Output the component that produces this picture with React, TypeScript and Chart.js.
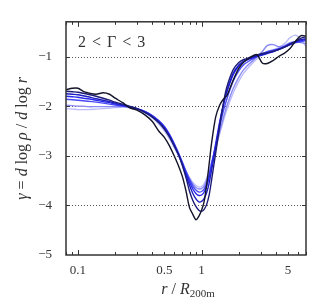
import React, { useEffect, useRef } from 'react';
import { Chart, registerables } from 'chart.js';

Chart.register(...registerables);

// radius r / R200m (shared sample grid)
const R = [0.08, 0.09, 0.1, 0.11, 0.12, 0.14, 0.16, 0.18, 0.2, 0.23, 0.26, 0.3, 0.35, 0.4, 0.45, 0.5, 0.55, 0.6, 0.65, 0.7, 0.75, 0.8, 0.85, 0.9, 0.95, 1.0, 1.05, 1.1, 1.15, 1.2, 1.3, 1.4, 1.5, 1.6, 1.8, 2.0, 2.2, 2.5, 2.8, 3.1, 3.4, 3.8, 4.2, 4.7, 5.2, 5.8, 6.4, 7.0];

// logarithmic slope gamma for each curve (dark -> light)
const G0 = [-1.67, -1.64, -1.64, -1.70, -1.73, -1.76, -1.73, -1.76, -1.84, -1.93, -2.03, -2.08, -2.18, -2.31, -2.50, -2.63, -2.80, -3.00, -3.20, -3.42, -3.72, -4.05, -4.18, -4.29, -4.22, -4.10, -3.92, -3.58, -3.18, -2.78, -2.22, -1.98, -1.86, -1.79, -1.48, -1.24, -1.11, -1.01, -0.96, -1.13, -1.14, -1.08, -1.00, -0.93, -0.84, -0.68, -0.58, -0.59];
const G1 = [-1.70, -1.71, -1.72, -1.74, -1.76, -1.80, -1.84, -1.88, -1.92, -1.96, -2.00, -2.05, -2.13, -2.22, -2.33, -2.46, -2.62, -2.80, -2.97, -3.20, -3.45, -3.72, -3.90, -4.02, -4.10, -4.12, -4.08, -3.98, -3.80, -3.52, -2.95, -2.42, -1.95, -1.62, -1.27, -1.12, -1.06, -1.01, -0.97, -0.94, -0.92, -0.89, -0.86, -0.81, -0.75, -0.69, -0.63, -0.60];
const G2 = [-1.75, -1.76, -1.77, -1.79, -1.81, -1.85, -1.88, -1.91, -1.94, -1.98, -2.01, -2.05, -2.12, -2.21, -2.32, -2.44, -2.60, -2.79, -2.98, -3.18, -3.40, -3.60, -3.76, -3.87, -3.93, -3.92, -3.86, -3.74, -3.56, -3.32, -2.84, -2.36, -1.98, -1.70, -1.34, -1.17, -1.09, -1.03, -0.99, -0.96, -0.93, -0.90, -0.86, -0.81, -0.76, -0.71, -0.66, -0.64];
const G3 = [-1.80, -1.81, -1.82, -1.84, -1.85, -1.88, -1.91, -1.93, -1.96, -1.99, -2.01, -2.05, -2.11, -2.20, -2.30, -2.42, -2.58, -2.77, -2.96, -3.16, -3.36, -3.53, -3.67, -3.76, -3.80, -3.79, -3.73, -3.61, -3.44, -3.22, -2.76, -2.32, -1.98, -1.72, -1.37, -1.19, -1.10, -1.04, -1.00, -0.97, -0.94, -0.90, -0.85, -0.80, -0.74, -0.70, -0.68, -0.66];
const G4 = [-1.86, -1.87, -1.88, -1.89, -1.90, -1.92, -1.94, -1.96, -1.98, -2.00, -2.02, -2.05, -2.11, -2.19, -2.29, -2.41, -2.57, -2.75, -2.94, -3.13, -3.32, -3.48, -3.61, -3.69, -3.73, -3.72, -3.67, -3.56, -3.40, -3.20, -2.80, -2.42, -2.10, -1.86, -1.50, -1.29, -1.16, -1.07, -1.00, -0.95, -0.90, -0.87, -0.84, -0.80, -0.76, -0.72, -0.70, -0.68];
const G5 = [-1.98, -1.99, -2.00, -2.00, -2.01, -2.01, -2.01, -2.01, -2.01, -2.01, -2.02, -2.06, -2.13, -2.22, -2.33, -2.46, -2.62, -2.80, -2.98, -3.15, -3.32, -3.46, -3.57, -3.64, -3.67, -3.66, -3.61, -3.50, -3.35, -3.17, -2.84, -2.52, -2.24, -2.00, -1.65, -1.42, -1.26, -1.12, -1.01, -0.90, -0.78, -0.76, -0.80, -0.78, -0.72, -0.70, -0.72, -0.74];
const G6 = [-2.05, -2.06, -2.07, -2.07, -2.07, -2.06, -2.05, -2.04, -2.03, -2.02, -2.03, -2.07, -2.14, -2.24, -2.36, -2.50, -2.66, -2.83, -3.00, -3.16, -3.31, -3.44, -3.54, -3.60, -3.63, -3.62, -3.56, -3.45, -3.30, -3.13, -2.84, -2.56, -2.30, -2.08, -1.74, -1.50, -1.33, -1.17, -1.05, -0.96, -0.90, -0.86, -0.82, -0.74, -0.62, -0.57, -0.66, -0.80];

const SERIES = [G0, G1, G2, G3, G4, G5, G6];
const COLORS = ['#14142a', '#1c1c78', '#1e1ec4', '#2a2aee', '#4a4af6', '#8a8af4', '#bcbcfa'];

const X_TICKS = [0.1, 0.5, 1, 5];
const X_MINOR = [0.08, 0.09, 0.2, 0.3, 0.4, 0.5, 0.6, 0.7, 0.8, 0.9, 2, 3, 4, 5, 6, 7];
const X_MAJOR = [0.1, 1];
const Y_TICKS = [-5, -4, -3, -2, -1];
const Y_GRID = [-4, -3, -2, -1];

const SERIF = '"Liberation Serif", "DejaVu Serif", serif';
const TXT = '#333333';

type Piece = [string, string, number, number?];

function drawPieces(ctx: CanvasRenderingContext2D, pieces: Piece[], cx: number, cy: number) {
  let total = 0;
  const widths: number[] = [];
  for (const [t, st, sz] of pieces) {
    ctx.font = `${st} ${sz}px ${SERIF}`;
    const w = ctx.measureText(t).width;
    widths.push(w);
    total += w;
  }
  let x = cx - total / 2;
  pieces.forEach(([t, st, sz, dy], i) => {
    ctx.font = `${st} ${sz}px ${SERIF}`;
    ctx.fillText(t, x, cy + (dy || 0));
    x += widths[i];
  });
}

const decor = {
  id: 'decor',
  beforeDatasetsDraw(chart: any) {
    const { ctx, chartArea: a, scales } = chart;
    const y = scales.y;
    ctx.save();
    ctx.strokeStyle = '#555';
    ctx.lineWidth = 1;
    ctx.setLineDash([1, 2]);
    for (const v of Y_GRID) {
      const py = Math.round(y.getPixelForValue(v)) + 0.5;
      ctx.beginPath();
      ctx.moveTo(a.left, py);
      ctx.lineTo(a.right, py);
      ctx.stroke();
    }
    ctx.restore();
  },
  afterDatasetsDraw(chart: any) {
    const { ctx, chartArea: a, scales } = chart;
    const { x, y } = scales;
    ctx.save();
    ctx.strokeStyle = '#333';
    ctx.lineWidth = 1;
    const xt = (v: number, len: number) => {
      const px = Math.round(x.getPixelForValue(v)) + 0.5;
      ctx.beginPath();
      ctx.moveTo(px, a.bottom);
      ctx.lineTo(px, a.bottom - len);
      ctx.moveTo(px, a.top);
      ctx.lineTo(px, a.top + len);
      ctx.stroke();
    };
    X_MINOR.forEach((v) => xt(v, 3));
    X_MAJOR.forEach((v) => xt(v, 5));
    Y_GRID.forEach((v) => {
      const py = Math.round(y.getPixelForValue(v)) + 0.5;
      ctx.beginPath();
      ctx.moveTo(a.left, py);
      ctx.lineTo(a.left + 4, py);
      ctx.moveTo(a.right, py);
      ctx.lineTo(a.right - 4, py);
      ctx.stroke();
    });
    ctx.lineWidth = 1.5;
    ctx.strokeStyle = '#333';
    ctx.strokeRect(a.left, a.top, a.right - a.left, a.bottom - a.top);

    ctx.fillStyle = TXT;
    ctx.textBaseline = 'alphabetic';
    ctx.textAlign = 'left';
    ctx.font = `16px ${SERIF}`;
    const parts = ['2', '<', 'Γ', '<', '3'];
    const gap = 6;
    let px = a.left + 12;
    parts.forEach((p) => {
      ctx.fillText(p, px, a.top + 25);
      px += ctx.measureText(p).width + gap;
    });
    ctx.restore();
  },
  afterDraw(chart: any) {
    const { ctx, chartArea: a } = chart;
    ctx.save();
    ctx.fillStyle = TXT;
    ctx.textAlign = 'left';
    ctx.textBaseline = 'alphabetic';
    drawPieces(
      ctx,
      [
        ['r', 'italic', 16],
        [' / ', 'normal', 16],
        ['R', 'italic', 16],
        ['200m', 'normal', 11, 3],
      ],
      (a.left + a.right) / 2 + 2,
      294
    );
    ctx.translate(27, (a.top + a.bottom) / 2);
    ctx.rotate(-Math.PI / 2);
    drawPieces(
      ctx,
      [
        ['γ', 'italic', 16],
        [' = ', 'normal', 16],
        ['d', 'italic', 16],
        [' log ', 'normal', 16],
        ['ρ', 'italic', 16],
        [' / ', 'normal', 16],
        ['d', 'italic', 16],
        [' log ', 'normal', 16],
        ['r', 'italic', 16],
      ],
      0,
      0
    );
    ctx.restore();
  },
};

export default function App() {
  const ref = useRef<HTMLCanvasElement>(null);
  useEffect(() => {
    document.body.style.margin = '0';
    const canvas = ref.current;
    if (!canvas) return;
    const chart = new Chart(canvas, {
      type: 'line',
      data: {
        datasets: SERIES.map((g, i) => ({
          label: `s${i}`,
          data: R.map((r, j) => ({ x: r, y: g[j] })),
          borderColor: COLORS[i],
          backgroundColor: COLORS[i],
          borderWidth: 1.4,
          pointRadius: 0,
          tension: 0.3,
          fill: false,
        })),
      },
      options: {
        responsive: false,
        animation: false,
        events: [],
        layout: { padding: { top: 9, right: 7, left: 0, bottom: 0 } },
        plugins: { legend: { display: false }, tooltip: { enabled: false } },
        scales: {
          x: {
            type: 'logarithmic',
            min: 0.08,
            max: 7,
            grid: { display: false, drawTicks: false },
            border: { display: false },
            afterBuildTicks: (s: any) => {
              s.ticks = X_TICKS.map((v) => ({ value: v }));
            },
            afterFit: (s: any) => {
              s.height = 44;
            },
            ticks: {
              autoSkip: false,
              maxRotation: 0,
              padding: 8,
              color: TXT,
              font: { family: SERIF, size: 13 },
              callback: (v: any) => String(v),
            },
          },
          y: {
            type: 'linear',
            min: -5,
            max: -0.3,
            grid: { display: false, drawTicks: false },
            border: { display: false },
            afterBuildTicks: (s: any) => {
              s.ticks = Y_TICKS.map((v) => ({ value: v }));
            },
            afterFit: (s: any) => {
              s.width = 66;
            },
            ticks: {
              padding: 14,
              color: TXT,
              font: { family: SERIF, size: 13 },
              callback: (v: any) => '\u2212' + Math.abs(Number(v)),
            },
          },
        },
      },
      plugins: [decor],
    } as any);
    return () => chart.destroy();
  }, []);
  return (
    <div style={{ width: 313, height: 299 }}>
      <canvas ref={ref} width={313} height={299} style={{ display: 'block' }} />
    </div>
  );
}
